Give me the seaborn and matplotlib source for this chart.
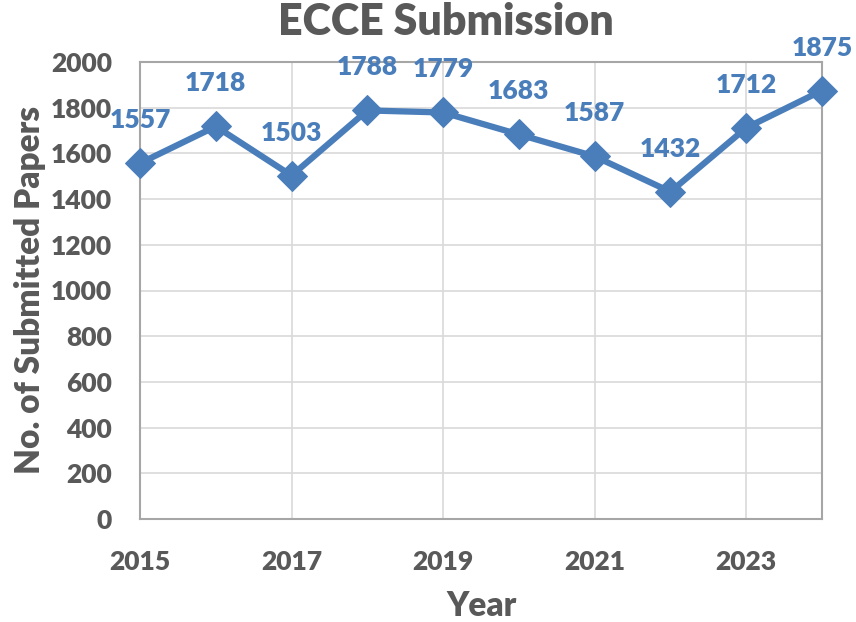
import matplotlib
matplotlib.use("Agg")
import matplotlib.pyplot as plt
import seaborn as sns
import pandas as pd

years = [2015, 2016, 2017, 2018, 2019, 2020, 2021, 2022, 2023, 2024]
submissions = [1557, 1718, 1503, 1788, 1779, 1683, 1587, 1432, 1712, 1875]
x_ticks = [2015, 2017, 2019, 2021, 2023]
y_ticks = [0, 200, 400, 600, 800, 1000, 1200, 1400, 1600, 1800, 2000]

sns.set_theme(style="white")
plt.rcParams['font.family'] = ['Lato', 'DejaVu Sans']

blue = "#4A7EBB"
gray = "#595959"
W = "heavy"

df = pd.DataFrame({"Year": years, "Submissions": submissions})

fig = plt.figure(figsize=(8.56, 6.22), dpi=100)
ax = fig.add_axes([140/856, 1-519/622, (822-140)/856, (519-62)/622])

sns.lineplot(data=df, x="Year", y="Submissions", ax=ax, color=blue,
             linewidth=4.5, marker="D", markersize=15, markeredgecolor=blue,
             zorder=3, clip_on=False)

for xv, yv in zip(years, submissions):
    ax.annotate(str(yv), (xv, yv), xytext=(0, 31), textcoords="offset points",
                ha="center", va="center", color=blue, fontsize=19,
                fontweight=W, zorder=4, annotation_clip=False)

ax.set_xlim(2015, 2024)
ax.set_ylim(0, 2000)
ax.set_xticks(x_ticks)
ax.set_yticks(y_ticks)
ax.set_xticklabels([str(t) for t in x_ticks], fontsize=19, fontweight=W, color=gray)
ax.set_yticklabels([str(t) for t in y_ticks], fontsize=19, fontweight=W, color=gray)
ax.tick_params(axis="x", pad=22, length=0)
ax.tick_params(axis="y", pad=20, length=0)
ax.grid(True, color="#D9D9D9", linewidth=1.2)
ax.set_axisbelow(True)
for s in ax.spines.values():
    s.set_color("#A6A6A6")
    s.set_linewidth(1.5)

ax.set_xlabel("")
ax.set_ylabel("")
fig.text(482/856, 1-606/622, "Year", ha="center", va="center",
         fontsize=24, fontweight=W, color=gray)
fig.text(30/856, 1-290/622, "No. of Submitted Papers", ha="center", va="center",
         rotation=90, fontsize=24, fontweight=W, color=gray)
fig.text(446/856, 1-22/622, "ECCE Submission", ha="center", va="center",
         fontsize=31, fontweight=W, color=gray)

fig.savefig("out.png", dpi=100)
